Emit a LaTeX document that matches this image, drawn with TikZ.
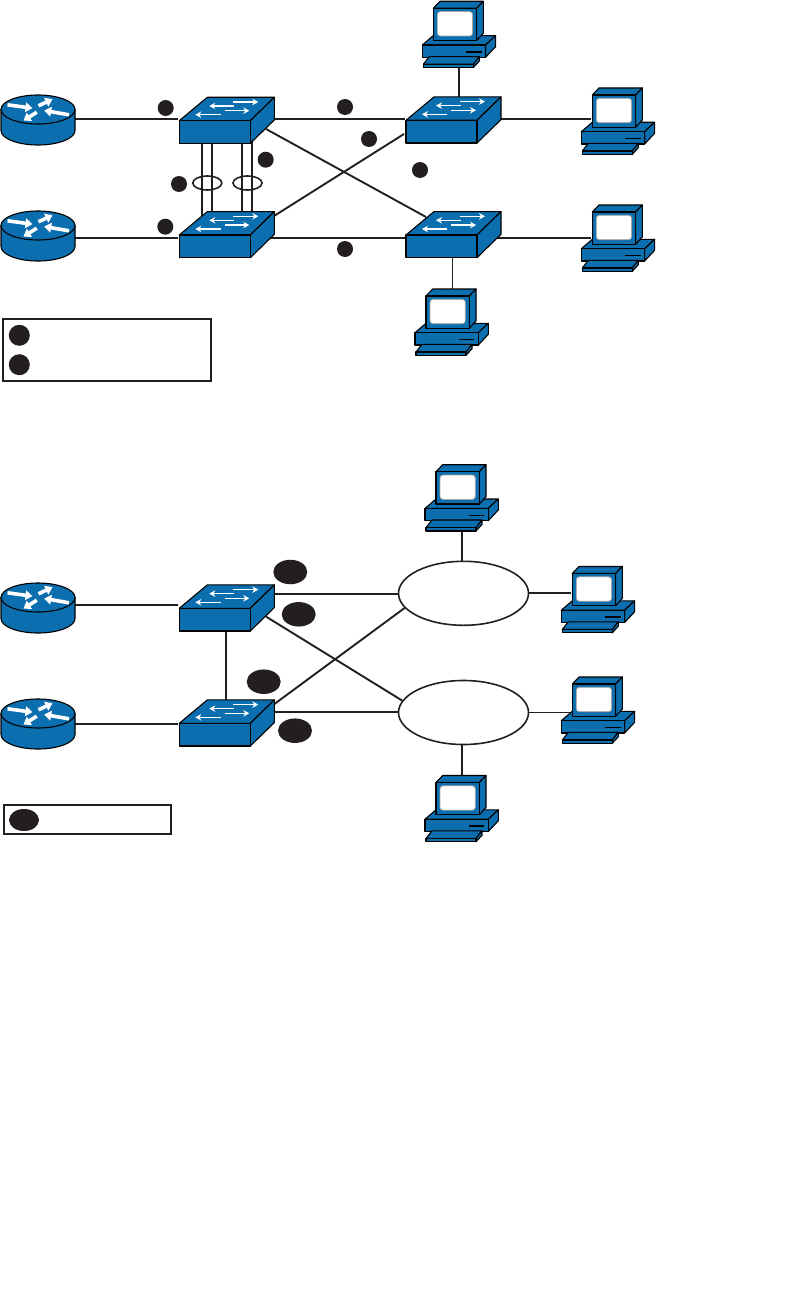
\documentclass[tikz,border=0pt]{standalone}
\usepackage{xcolor}
\usetikzlibrary{shapes.geometric,arrows.meta,backgrounds}
\definecolor{devblue}{RGB}{11,110,174}
\definecolor{inkdark}{RGB}{35,31,32}

\begin{document}
\begin{tikzpicture}[x=1pt, y=-1pt,
    dev/.style={draw=black, line width=1.1pt, fill=devblue, line join=round},
    link/.style={draw=inkdark, line width=1.9pt},
    dot/.style={circle, fill=inkdark, inner sep=0pt, minimum size=16pt},
    keydot/.style={circle, fill=inkdark, inner sep=0pt, minimum size=21pt},
    oval/.style={ellipse, fill=inkdark, inner sep=0pt, minimum width=34pt, minimum height=24.5pt},
    keyoval/.style={ellipse, fill=inkdark, inner sep=0pt, minimum width=30pt, minimum height=22pt},
    cloud/.style={ellipse, draw=inkdark, line width=1.6pt, inner sep=0pt, minimum width=130pt, minimum height=64pt},
    bundle/.style={ellipse, draw=inkdark, line width=1.6pt, inner sep=0pt, minimum width=29pt, minimum height=14pt},
    keybox/.style={rectangle, draw=inkdark, line width=1.9pt, inner sep=0pt},
    swarr/.style={white, line width=1.2pt, -{Stealth[length=6pt,width=6.5pt]}},
    rtarr/.style={white, line width=3.6pt, -{Triangle[length=7pt,width=9.5pt]}},
    pics/switchbox/.style={code={
        \filldraw[dev] (0,0) -- (28,-23.4) -- (95,-23.4) -- (71,0) -- cycle;
        \filldraw[dev] (71,0) -- (95,-23.4) -- (95,-0.7) -- (71,22.7) -- cycle;
        \filldraw[dev] (0,0) rectangle (71,22.7);
        \draw[swarr] (54,-18.7) -- (79,-18.7);
        \draw[swarr] (55,-14.7) -- (30,-14.7);
        \draw[swarr] (45.3,-10) -- (70,-10);
        \draw[swarr] (41.3,-6) -- (16,-6);
        \coordinate (-west) at (-1,0);
        \coordinate (-east) at (90,0);
        \coordinate (-north) at (53,-10);
        \coordinate (-south) at (46.5,20);
        \coordinate (-low) at (86.7,8.3);
        \coordinate (-high) at (94.7,-19);
        \coordinate (-side) at (-2,13.7);
        \coordinate (-top) at (20,-18);
        \coordinate (-la) at (22.4,20);
        \coordinate (-lb) at (32.7,20);
        \coordinate (-lc) at (62.7,20);
        \coordinate (-ld) at (72.4,20);
    }},
    pics/routerbox/.style={code={
        \filldraw[dev] (-37,0) -- (-37,21) arc[start angle=180, end angle=360, x radius=37pt, y radius=14.5pt] -- (37,0) -- cycle;
        \filldraw[dev] (0,0) ellipse [x radius=37pt, y radius=14.5pt];
        \draw[rtarr] (-30.5,-4.7) -- (-5.5,-1.3);
        \draw[rtarr] (0.5,-3.7) -- (14.5,-10.3);
        \draw[rtarr] (-1.2,2.7) -- (-14.5,11);
        \draw[rtarr] (31,5.3) -- (6.2,1);
        \coordinate (-east) at (36,10);
    }},
    pics/pcbox/.style={code={
        % base
        \filldraw[dev] (-11,36.7) -- (0,27.3) -- (62.3,27.3) -- (52.3,36.7) -- cycle;
        \filldraw[dev] (52.3,36.7) -- (62.3,27.3) -- (62.3,38.3) -- (52.3,49) -- cycle;
        \filldraw[dev] (-11,36.7) rectangle (52.3,49);
        \draw[black, line width=1.5pt] (32.7,43.7) -- (48.3,43.7);
        % keyboard
        \filldraw[dev] (-4,48.3) -- (-10,56) -- (40,56) -- (46,48.3) -- cycle;
        \filldraw[dev] (40,56) -- (46,48.3) -- (46,52.7) -- (40,59.3) -- cycle;
        \filldraw[dev] (-10,56) rectangle (40,59.3);
        % monitor
        \filldraw[dev] (0,0) -- (6.7,-7) -- (50,-7) -- (43.3,0) -- cycle;
        \filldraw[dev] (43.3,0) -- (50,-7) -- (50,25) -- (43.3,32.3) -- cycle;
        \filldraw[dev] (0,0) rectangle (43.3,32.3);
        \filldraw[draw=gray!70, fill=white, line width=0.8pt, rounded corners=3pt] (4,3.3) rectangle (39.3,27.7);
        \coordinate (-north) at (26,-6);
        \coordinate (-south) at (26,59);
        \coordinate (-west) at (-1,25);
    }}
]
    \useasboundingbox (0,0) rectangle (811,1311);

    % Rows that the horizontal links run along
    \coordinate (rowa) at (0,119);
    \coordinate (rowb) at (0,237.7);
    \coordinate (rowc) at (0,605);
    \coordinate (rowd) at (0,724);
    \coordinate (rowe) at (0,593.7);
    \coordinate (rowf) at (0,712);

    % Upper network: devices
    \pic (rta) at (38,109.5) {routerbox};
    \pic (rtb) at (38,225.5) {routerbox};
    \pic (swa) at (179.3,120.7) {switchbox};
    \pic (swb) at (179.3,235) {switchbox};
    \pic (swc) at (406,120.3) {switchbox};
    \pic (swd) at (406,235) {switchbox};
    \pic (pca) at (433.3,8.3) {pcbox};
    \pic (pcb) at (592.3,95) {pcbox};
    \pic (pcc) at (592.3,212) {pcbox};
    \pic (pcd) at (426,296) {pcbox};

    % Upper network: bundles and markers
    \node[bundle] (bna) at (207.3,183) {};
    \node[bundle] (bnb) at (247.5,183) {};
    \node[dot] (da) at (165.7,108) {};
    \node[dot] (db) at (179,184) {};
    \node[dot] (dc) at (165.3,226.7) {};
    \node[dot] (dd) at (265.7,159.7) {};
    \node[dot] (de) at (345,107) {};
    \node[dot] (df) at (369,139) {};
    \node[dot] (dg) at (420,170) {};
    \node[dot] (dh) at (345,249) {};

    % Upper key
    \node[keybox, minimum width=208.3pt, minimum height=61.7pt] (keya) at (106.85,349.85) {};
    \node[keydot] (kda) at (19.3,335.3) {};
    \node[keydot] (kdb) at (19.3,364.7) {};

    % Lower network: devices
    \pic (rtc) at (38,597.5) {routerbox};
    \pic (rtd) at (38,713.5) {routerbox};
    \pic (swe) at (179.3,608.3) {switchbox};
    \pic (swf) at (179.3,723.3) {switchbox};
    \pic (pce) at (436,471.7) {pcbox};
    \pic (pcf) at (572.3,573.5) {pcbox};
    \pic (pcg) at (572.3,684) {pcbox};
    \pic (pch) at (436,782.5) {pcbox};
    \node[cloud] (cla) at (463.5,593.3) {};
    \node[cloud] (clb) at (463.5,712.5) {};

    % Lower network: markers
    \node[oval] (oa) at (290.3,572) {};
    \node[oval] (ob) at (298.7,614.3) {};
    \node[oval] (oc) at (263.7,681.7) {};
    \node[oval] (od) at (295,730.7) {};

    % Lower key
    \node[keybox, minimum width=167pt, minimum height=29pt] (keyb) at (87.5,819.5) {};
    \node[keyoval] (koa) at (24,820) {};

    % Links go behind the devices
    \begin{scope}[on background layer]
        \draw[link] (rta-east |- rowa) -- (swa-west |- rowa);
        \draw[link] (rtb-east |- rowb) -- (swb-west |- rowb);
        \draw[link] (swa-east |- rowa) -- (swc-west |- rowa);
        \draw[link] (swb-east |- rowb) -- (swd-west |- rowb);
        \draw[link] (swa-low) -- (swd-top);
        \draw[link] (swb-high) -- (swc-side);
        \draw[link] (swc-east |- rowa) -- (pcb-west |- rowa);
        \draw[link] (swd-east |- rowb) -- (pcc-west |- rowb);
        \draw[link] (swc-north) -- (swc-north |- pca-south);
        \draw[link] (swd-south) -- (swd-south |- pcd-north);
        \foreach \lk in {la,lb,lc,ld}
            \draw[link] (swa-\lk) -- (swa-\lk |- swb-north);

        \draw[link] (rtc-east |- rowc) -- (swe-west |- rowc);
        \draw[link] (rtd-east |- rowd) -- (swf-west |- rowd);
        \draw[link] (swe-south) -- (swe-south |- swf-north);
        \draw[link] (swe-east |- rowe) -- (cla.west |- rowe);
        \draw[link] (swf-east |- rowf) -- (clb.west |- rowf);
        \draw[link] (swe-low) -- (clb.169);
        \draw[link] (swf-high) -- (cla.194);
        \draw[link] (pce-south) -- (pce-south |- cla.north);
        \draw[link] (pch-north) -- (pch-north |- clb.south);
        \draw[link] (cla.east) -- (pcf-west |- cla.east);
        \draw[link] (clb.east) -- (pcg-west |- clb.east);
    \end{scope}
\end{tikzpicture}
\end{document}
